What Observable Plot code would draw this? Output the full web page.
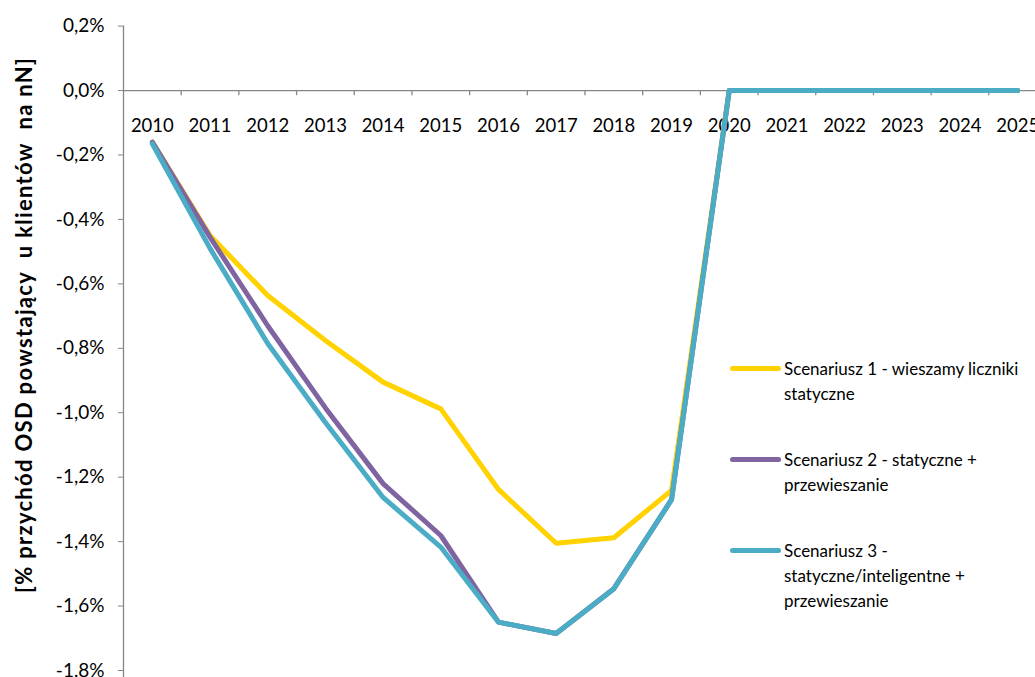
<!DOCTYPE html>
<html><head><meta charset="utf-8">
<script src="https://cdn.jsdelivr.net/npm/d3@7"></script>
<script src="https://cdn.jsdelivr.net/npm/@observablehq/plot@0.6"></script>
<style>
body{margin:0;background:#fff;}
#wrap{position:relative;width:1035px;height:677px;overflow:hidden;font-family:Lato,sans-serif;background:#fff;}
#legend{position:absolute;left:730px;top:0;width:305px;height:677px;}
.sw{position:absolute;left:0;width:51px;height:5px;border-radius:3px;}
.tx{position:absolute;left:54px;font-size:17px;line-height:25px;white-space:nowrap;color:#000;}
</style></head>
<body><div id="wrap"></div>
<script>
const years = [2010,2011,2012,2013,2014,2015,2016,2017,2018,2019,2020,2021,2022,2023,2024,2025];
const scen1 = [-0.16,-0.45,-0.636,-0.776,-0.905,-0.988,-1.238,-1.405,-1.388,-1.241,0,0,0,0,0,0];
const scen2 = [-0.16,-0.455,-0.73,-0.985,-1.22,-1.381,-1.65,-1.685,-1.546,-1.27,0,0,0,0,0,0];
const scen3 = [-0.165,-0.49,-0.785,-1.03,-1.263,-1.417,-1.65,-1.685,-1.546,-1.27,0,0,0,0,0,0];
const seriesNames = ["Scenariusz 1 - wieszamy liczniki statyczne","Scenariusz 2 - statyczne + przewieszanie","Scenariusz 3 - statyczne/inteligentne + przewieszanie"];
const legendLines = [["Scenariusz 1 - wieszamy liczniki","statyczne"],["Scenariusz 2 - statyczne +","przewieszanie"],["Scenariusz 3 -","statyczne/inteligentne +","przewieszanie"]];
const colors = ["#FFD200","#8064A2","#4BACC6"];
const yTicks = [0.2,0,-0.2,-0.4,-0.6,-0.8,-1.0,-1.2,-1.4,-1.6,-1.8];
const yLabel = "[% przychód OSD powstający  u klientów  na nN]";

const data = [];
[scen1,scen2,scen3].forEach((s,k)=>s.forEach((v,i)=>data.push({year:years[i],value:v,series:seriesNames[k]})));
const boundaries = years.map(y=>y+0.5).slice(0,-1);
const fmt = d => d.toFixed(1).replace(".", ",") + "%";

const chart = Plot.plot({
  width:1035, height:677,
  marginLeft:123, marginRight:0, marginTop:25, marginBottom:52,
  style:{fontFamily:"Lato, sans-serif", background:"#fff"},
  x:{type:"linear", domain:[2009.5,2025.5], range:[123,1046], axis:null},
  y:{domain:[-1.8,0.2], range:[670,25.6], axis:null},
  color:{domain:seriesNames, range:colors},
  marks:[
    Plot.ruleX([2009.5],{y1:-2,y2:0.2,stroke:"#868686",strokeWidth:1.3}),
    Plot.axisY({ticks:yTicks, tickFormat:fmt, tickSize:5, tickPadding:14, fontSize:19, stroke:"#868686", fill:"#000", label:null}),
    Plot.ruleY([0],{stroke:"#868686",strokeWidth:1.3}),
    Plot.ruleX(boundaries,{x:d=>d, y1:0, y2:-0.016, stroke:"#868686", strokeWidth:1.3}),
    Plot.text(years,{x:d=>d, y:0, text:d=>String(d), dy:36, fontSize:18.5, fill:"#000"}),
    Plot.line(data,{x:"year", y:"value", z:"series", stroke:"series", strokeWidth:5, strokeLinecap:"round"}),
    Plot.text([yLabel],{frameAnchor:"left", text:d=>d, rotate:-90, dx:-99, textAnchor:"middle", fontSize:22, fontWeight:"bold", fill:"#000"})
  ]
});
chart.querySelectorAll("text").forEach(t=>{
  if (t.textContent === yLabel) { t.setAttribute("textLength","535"); t.setAttribute("lengthAdjust","spacing"); t.setAttribute("xml:space","preserve"); t.style.whiteSpace="pre"; }
});
const wrap = document.getElementById("wrap");
wrap.appendChild(chart);
const leg = document.createElement("div"); leg.id="legend"; wrap.appendChild(leg);
const centers = [368,459,550];
legendLines.forEach((lines,k)=>{
  const sw=document.createElement("div"); sw.className="sw"; sw.style.top=(centers[k]-2.5)+"px"; sw.style.background=colors[k]; leg.appendChild(sw);
  const tx=document.createElement("div"); tx.className="tx"; tx.style.top=(centers[k]-12.5)+"px";
  tx.innerHTML=lines.join("<br>"); leg.appendChild(tx);
});
</script></body></html>
